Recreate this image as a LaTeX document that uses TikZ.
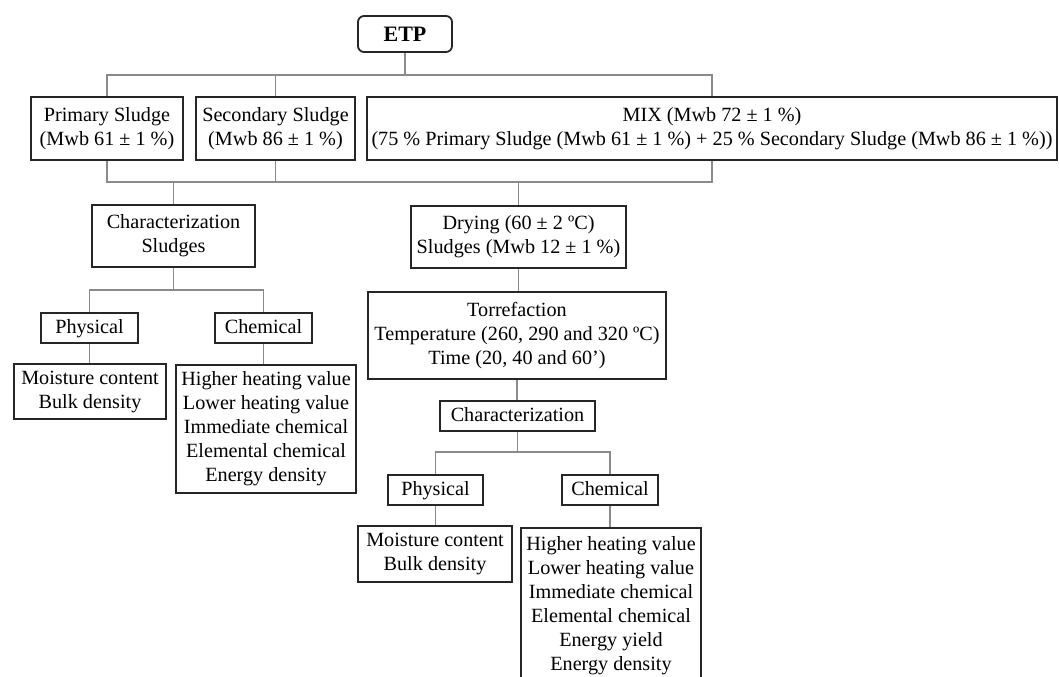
\documentclass[tikz,border=0pt]{standalone}
\usepackage{fontspec}
\setmainfont{Liberation Serif}
\usetikzlibrary{positioning}
\definecolor{FlowInk}{HTML}{262626}
\definecolor{FlowLink}{HTML}{8A8A8A}
\begin{document}
\begin{tikzpicture}[x=0.5pt,y=-0.5pt,
    box/.style={draw=FlowInk,line width=0.9pt,inner sep=0pt,align=center,
      font=\fontsize{10.1}{12}\selectfont},
    tag/.style={box,minimum height=15pt,text height=7.2pt,text depth=2.2pt},
    link/.style={draw=FlowLink,line width=0.65pt}]
  \useasboundingbox (0,0) rectangle (1059,676);

  \coordinate (busA) at (0,75);
  \coordinate (busB) at (0,182);
  \coordinate (busC) at (0,290);
  \coordinate (busD) at (0,452);

  \node[box,rounded corners=3pt,minimum width=47pt,minimum height=18pt,
    font=\bfseries\fontsize{11}{13}\selectfont] (etp) at (405,34) {ETP};

  \node[box,minimum width=76pt,minimum height=31.5pt]
    (prim) at (107,128.5) {Primary Sludge\\(Mwb 61 ± 1 \%)};
  \node[box,minimum width=79.5pt,minimum height=31.5pt]
    (sec) at (275.5,128.5) {Secondary Sludge\\(Mwb 86 ± 1 \%)};
  \node[box,minimum width=345pt,minimum height=31.5pt]
    (mix) at (712,128.5) {MIX (Mwb 72 ± 1 \%)\\(75 \% Primary Sludge (Mwb 61 ± 1 \%) + 25 \% Secondary Sludge (Mwb 86 ± 1 \%))};

  \node[box,minimum width=81.5pt,minimum height=31pt]
    (charS) at (173.5,236) {Characterization\\Sludges};
  \node[box,minimum width=107.5pt,minimum height=31pt]
    (dry) at (518.5,237) {Drying (60 ± 2 ºC)\\Sludges (Mwb 12 ± 1 \%)};

  \node[tag,minimum width=48.5pt] (phys1) at (89.5,328) {Physical};
  \node[tag,minimum width=48.5pt] (chem1) at (263.5,328) {Chemical};
  \node[box,minimum width=76pt,minimum height=27.5pt]
    (moist1) at (90,391.5) {Moisture content\\Bulk density};
  \node[box,minimum width=90pt,minimum height=64pt]
    (res1) at (266,429) {Higher heating value\\Lower heating value\\Immediate chemical\\Elemental chemical\\Energy density};

  \node[box,minimum width=149pt,minimum height=43.5pt]
    (torr) at (517,335.5) {Torrefaction\\Temperature (260, 290 and 320 ºC)\\Time (20, 40 and 60’)};
  \node[tag,minimum width=77.5pt] (charT) at (517.5,416) {Characterization};

  \node[tag,minimum width=47.5pt] (phys2) at (435.5,490) {Physical};
  \node[tag,minimum width=48pt] (chem2) at (610,490) {Chemical};
  \node[box,minimum width=77pt,minimum height=28pt]
    (moist2) at (435,554) {Moisture content\\Bulk density};
  \node[box,minimum width=90pt,minimum height=78pt]
    (res2) at (611,606) {Higher heating value\\Lower heating value\\Immediate chemical\\Elemental chemical\\Energy yield\\Energy density};

  \draw[link] (etp.south) -- (etp.south |- busA);
  \draw[link] (prim.north) |- (mix.north |- busA) -- (mix.north);
  \draw[link] (sec.north) -- (sec.north |- busA);

  \draw[link] (prim.south) |- (mix.south |- busB) -- (mix.south);
  \draw[link] (sec.south) -- (sec.south |- busB);
  \draw[link] (charS.north) -- (charS.north |- busB);
  \draw[link] (dry.north) -- (dry.north |- busB);

  \draw[link] (charS.south) -- (charS.south |- busC);
  \draw[link] (phys1.north) |- (chem1.north |- busC) -- (chem1.north);
  \draw[link] (phys1.south) -- (phys1.south |- moist1.north);
  \draw[link] (chem1.south) -- (chem1.south |- res1.north);

  \draw[link] (dry.south) -- (dry.south |- torr.north);
  \draw[link] (torr.south) -- (torr.south |- charT.north);
  \draw[link] (charT.south) -- (charT.south |- busD);
  \draw[link] (phys2.north) |- (chem2.north |- busD) -- (chem2.north);
  \draw[link] (phys2.south) -- (phys2.south |- moist2.north);
  \draw[link] (chem2.south) -- (chem2.south |- res2.north);
\end{tikzpicture}
\end{document}
